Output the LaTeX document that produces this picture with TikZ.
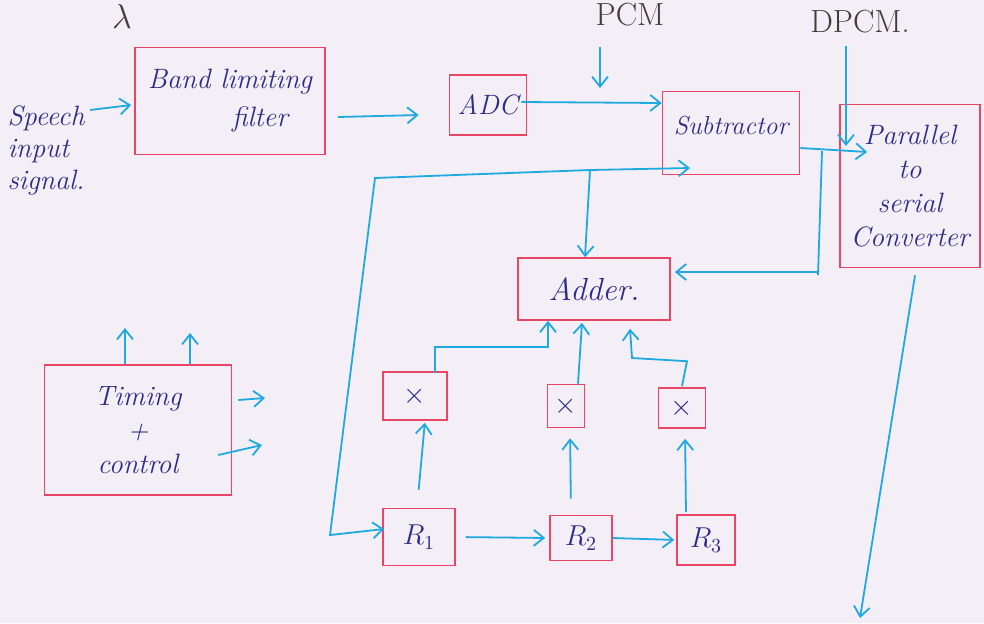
\documentclass[tikz,border=0pt]{standalone}
\usetikzlibrary{arrows.meta,calc}
\definecolor{paper}{RGB}{244,238,246}
\definecolor{boxred}{RGB}{232,70,100}
\definecolor{pen}{RGB}{30,170,225}
\definecolor{ink}{RGB}{45,45,135}
\definecolor{pencil}{RGB}{70,60,60}
\tikzset{
  blk/.style={draw=boxred, line width=0.8pt, text=ink, align=center, inner sep=0pt, font=\itshape\fontsize{14}{17}\selectfont},
  arr/.style={draw=pen, line width=0.9pt, -{Straight Barb[length=5pt,width=8pt]}},
  lbl/.style={text=ink, font=\itshape\fontsize{14}{16}\selectfont},
  plbl/.style={text=pencil, font=\fontsize{16}{18}\selectfont}
}
\begin{document}
\begin{tikzpicture}[x=0.5pt,y=-0.5pt]
\fill[paper] (0,0) rectangle (984,623);
\useasboundingbox (0,0) rectangle (984,623);

% blocks
\node[blk, minimum width=95pt, minimum height=53.5pt] (filt) at (230,101) {Band limiting\\[2pt]\hspace*{30pt}filter};
\node[blk, minimum width=38.5pt, minimum height=30pt] (adc) at (488,105) {ADC};
\node[blk, minimum width=68.5pt, minimum height=41.5pt, font=\itshape\fontsize{13}{16}\selectfont] (sub) at (731,133) {\raisebox{8pt}{Subtractor}};
\node[blk, minimum width=70pt, minimum height=81.5pt] (ps) at (910,186) {Parallel\\to\\serial\\Converter};
\node[blk, minimum width=76pt, minimum height=31pt, font=\itshape\fontsize{16}{18}\selectfont] (adder) at (594,289) {Adder.};
\node[blk, minimum width=32pt, minimum height=24pt] (x1) at (415,396) {$\times$};
\node[blk, minimum width=18.5pt, minimum height=21.5pt] (x2) at (566,406) {$\times$};
\node[blk, minimum width=23.5pt, minimum height=20pt] (x3) at (682,408) {$\times$};
\node[blk, minimum width=36pt, minimum height=28.5pt] (r1) at (419,537) {$R_1$};
\node[blk, minimum width=31pt, minimum height=22.5pt] (r2) at (581,538) {$R_2$};
\node[blk, minimum width=29pt, minimum height=25pt] (r3) at (706,540) {$R_3$};
\node[blk, minimum width=93.5pt, minimum height=65pt] (tc) at (138,430) {Timing\\+\\control};

% labels
\node[lbl, align=left] (speech) at (46,150) {Speech\\input\\signal.};
\node[plbl] (pcm) at (630,15) {PCM};
\node[plbl] (dpcm) at (860,22) {DPCM.};
\node[plbl] (lam) at (122,16) {$\lambda$};

% coordinates
\coordinate (sp) at (90,110);
\coordinate (pcmend) at (600,88);
\coordinate (dpcmend) at (846,146);
\coordinate (fb) at (822,151);
\coordinate (out) at (860,618);
\coordinate (j) at (590,170);
\coordinate (lc1) at (375,178);
\coordinate (lc2) at (330,535);
\coordinate (z1) at (632,358);
\coordinate (t1) at (125,328);
\coordinate (t2) at (190,333);
\coordinate (t3) at (265,398);
\coordinate (t4) at (262,445);

% connectors
\draw[arr] (sp) -- ([shift={(-3,4)}]filt.west);
\draw[arr] ([shift={(12,16)}]filt.east) -- ([shift={(-30,10)}]adc.west);
\draw[arr] ([shift={(-30,13)}]pcm.south) -- (pcmend);
\draw[arr] ([shift={(-6,-3)}]adc.east) -- ([shift={(0,-30)}]sub.west);
\draw[arr] ([shift={(-14,5)}]dpcm.south) -- (dpcmend);
\draw[arr] ([shift={(0,15)}]sub.east) -- ([shift={(28,-34)}]ps.west);
\draw[arr] (fb) -- ([shift={(-4,124)}]fb) |- ([shift={(4,-17)}]adder.east);
\draw[arr] ([shift={(5,7)}]ps.south) -- (out);

\draw[arr] (j) -- ([shift={(-41,35)}]sub.center);
\draw[arr] (j) -- ([shift={(-9,0)}]adder.north);
\draw[arr] (j) -- (lc1) -- (lc2) -- ([shift={(2,-8)}]r1.west);

\draw[arr] ([shift={(20,2)}]x1.north) -- ++(0,-26) -| ([shift={(-46,0)}]adder.south);
\draw[arr] ([shift={(12,0)}]x2.north) -- ([shift={(-12,2)}]adder.south);
\draw[arr] ([shift={(0,-1)}]x3.north) -- ++(5,-25) -- (z1) -- ([shift={(36,8)}]adder.south);

\draw[arr, shorten <=9pt, shorten >=1pt] ([xshift=-1pt]r1.north) -- ([xshift=5pt]x1.south);
\draw[arr, shorten <=8pt, shorten >=5pt] ([xshift=-5pt]r2.north) -- ([xshift=2pt]x2.south);
\draw[arr, shorten <=1pt, shorten >=5pt] ([xshift=-10pt]r3.north) -- ([xshift=1.5pt]x3.south);
\draw[arr, shorten <=5pt, shorten >=2pt] (r1.east) -- (r2.west);
\draw[arr, shorten >=1pt] (r2.east) -- (r3.west);

\draw[arr] ([shift={(-13,0)}]tc.north) -- (t1);
\draw[arr] ([shift={(52,0)}]tc.north) -- (t2);
\draw[arr] ([shift={(6,-30)}]tc.east) -- (t3);
\draw[arr] ([shift={(-14,25)}]tc.east) -- (t4);
\end{tikzpicture}
\end{document}
